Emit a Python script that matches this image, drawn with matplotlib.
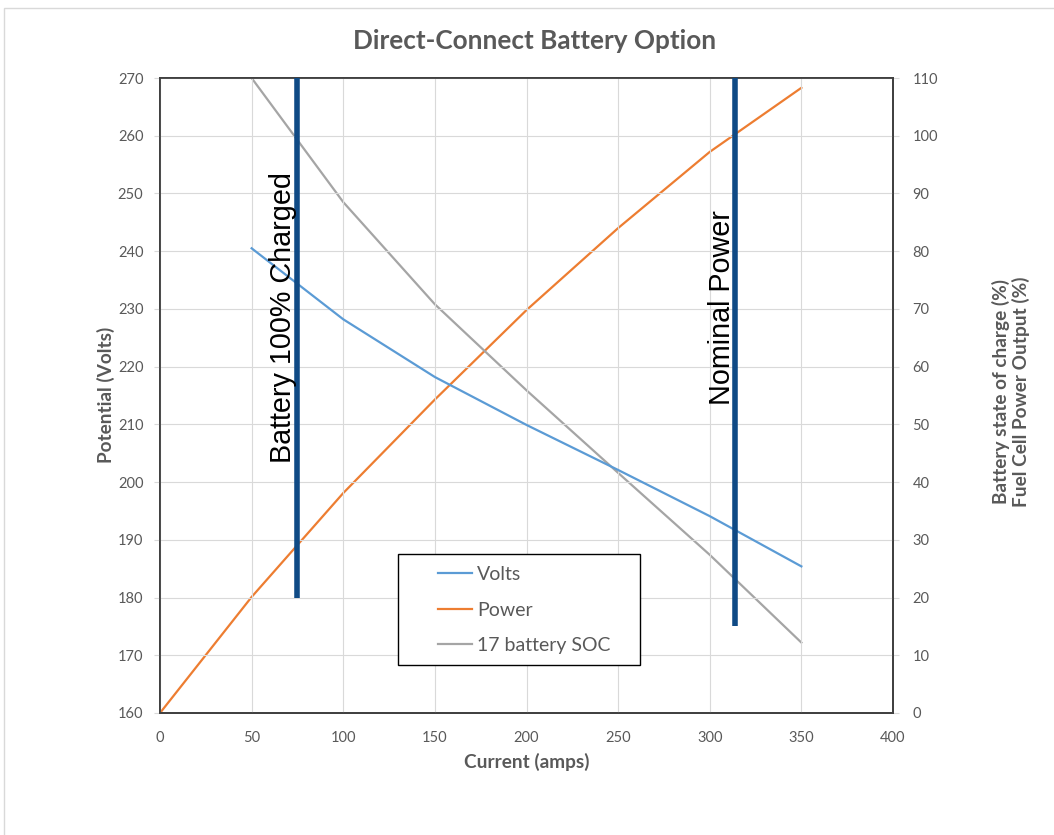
import matplotlib
matplotlib.use("Agg")
import matplotlib.pyplot as plt
from matplotlib.patches import Rectangle

# Data
current = [0, 50, 100, 150, 200, 250, 300, 350]
volts_x = [50, 100, 150, 200, 250, 300, 350]
volts = [240.5, 228.2, 218.2, 209.9, 202.1, 194.1, 185.4]
power = [0, 20.1, 38.1, 54.3, 69.8, 84.0, 97.2, 108.3]
soc_x = [50, 100, 150, 200, 250, 300, 350]
soc = [110, 88.5, 70.8, 55.9, 41.6, 27.4, 12.2]
markers_x = [75, 314]
markers_ybottom = [180, 175]
marker_labels = ["Battery 100% Charged", "Nominal Power"]
label_pos = [(67, 228.5), (306.5, 230.2)]

grey = "#595959"
ff = ["Lato", "DejaVu Sans"]

fig = plt.figure(figsize=(10.54, 8.35), dpi=100)
fig.patches.append(Rectangle((4/1054, -0.02), 1.1, 1 - 8/835 + 0.02, transform=fig.transFigure,
                             fill=False, edgecolor="#d9d9d9", linewidth=1.0))
ax = fig.add_axes([160/1054, 1 - 713/835, 733/1054, 635/835])
ax2 = ax.twinx()

ax.set_xlim(0, 400)
ax.set_ylim(160, 270)
ax2.set_ylim(0, 110)
ax.set_xticks(range(0, 401, 50))
ax.set_yticks(range(160, 271, 10))
ax2.set_yticks(range(0, 111, 10))
ax.grid(True, color="#d9d9d9", linewidth=0.8)
ax.set_axisbelow(True)

for a in (ax, ax2):
    for s in a.spines.values():
        s.set_color("#404040")
        s.set_linewidth(1.3)
ax.tick_params(axis="x", length=0, pad=13, labelcolor=grey, labelsize=10.5)
ax.tick_params(axis="y", length=4, color="#d9d9d9", pad=8, labelcolor=grey, labelsize=10.5)
ax2.tick_params(axis="y", length=4, color="#d9d9d9", pad=10, labelcolor=grey, labelsize=10.5)
for lab in ax.get_xticklabels() + ax.get_yticklabels() + ax2.get_yticklabels():
    lab.set_family(ff)

l1, = ax.plot(volts_x, volts, color="#5B9BD5", linewidth=1.6, label="Volts")
l2, = ax2.plot(current, power, color="#ED7D31", linewidth=1.6, label="Power")
l3, = ax2.plot(soc_x, soc, color="#A5A5A5", linewidth=1.6, label="17 battery SOC")

for xm, yb in zip(markers_x, markers_ybottom):
    ax.plot([xm, xm], [yb, 270], color="#0F4A85", linewidth=4, solid_capstyle="butt", zorder=5)
for txt, (tx, ty) in zip(marker_labels, label_pos):
    ax.text(tx, ty, txt, rotation=90, ha="center", va="center", fontsize=20.7,
            family=["Liberation Sans", "DejaVu Sans"], color="black", zorder=6)

# legend frame box
ax.add_patch(Rectangle((238/733, 48/635), 242/733, 111/635, transform=ax.transAxes,
                       fill=True, facecolor="white", edgecolor="black", linewidth=1.0, zorder=9))
leg = ax.legend(handles=[l1, l2, l3], loc="center left",
                bbox_to_anchor=(278/733, 103/635), frameon=False,
                prop={"family": ff, "size": 14},
                handlelength=1.75, handletextpad=0.25, labelspacing=0.95,
                borderpad=0, borderaxespad=0)
for t in leg.get_texts():
    t.set_color(grey)
leg.set_zorder(10)
ax.set_zorder(ax2.get_zorder() + 1)
ax.patch.set_visible(False)

fig.text(535/1054, 1 - 41/835, "Direct-Connect Battery Option", ha="center", va="center",
         fontsize=18.8, fontweight="bold", color=grey, family=ff)
fig.text(527/1054, 1 - 762/835, "Current (amps)", ha="center", va="center",
         fontsize=13.7, fontweight="bold", color=grey, family=ff)
fig.text(106/1054, 1 - 395/835, "Potential (Volts)", ha="center", va="center", rotation=90,
         fontsize=13.7, fontweight="bold", color=grey, family=ff)
fig.text(1011/1054, 1 - 392/835, "Battery state of charge (%)\nFuel Cell Power Output (%)",
         ha="center", va="center", rotation=90, fontsize=13.7, fontweight="bold", color=grey,
         family=ff, linespacing=1.1)

fig.savefig("out.png", dpi=100)
